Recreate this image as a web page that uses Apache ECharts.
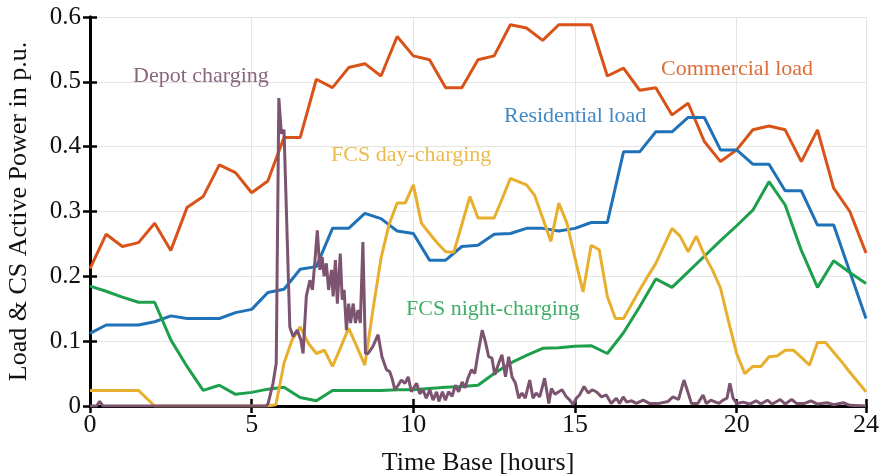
<!DOCTYPE html>
<html>
<head>
<meta charset="utf-8">
<script src="https://cdn.jsdelivr.net/npm/echarts@6/dist/echarts.min.js"></script>
<style>
html,body{margin:0;padding:0;background:#fff;}
#chart{width:880px;height:476px;}
</style>
</head>
<body>
<div id="chart"></div>
<script>
// ---- data ----
const halfHours = [0,0.5,1,1.5,2,2.5,3,3.5,4,4.5,5,5.5,6,6.5,7,7.5,8,8.5,9,9.5,10,10.5,11,11.5,12,12.5,13,13.5,14,14.5,15,15.5,16,16.5,17,17.5,18,18.5,19,19.5,20,20.5,21,21.5,22,22.5,23,23.5,24];
const commercialLoad = [0.212,0.265,0.246,0.252,0.282,0.240,0.306,0.323,0.372,0.360,0.329,0.347,0.414,0.414,0.504,0.491,0.522,0.528,0.509,0.570,0.540,0.534,0.491,0.491,0.534,0.540,0.588,0.583,0.564,0.588,0.588,0.588,0.509,0.521,0.487,0.491,0.449,0.467,0.408,0.377,0.395,0.426,0.432,0.426,0.377,0.426,0.336,0.300,0.236];
const residentialLoad = [0.112,0.125,0.125,0.125,0.130,0.139,0.135,0.135,0.135,0.144,0.149,0.175,0.180,0.211,0.215,0.274,0.274,0.297,0.289,0.270,0.266,0.225,0.225,0.246,0.248,0.265,0.266,0.274,0.274,0.270,0.274,0.283,0.283,0.392,0.392,0.423,0.423,0.445,0.445,0.395,0.395,0.373,0.373,0.332,0.332,0.279,0.279,0.207,0.135];
const fcsNight = [0.185,0.177,0.168,0.160,0.160,0.102,0.061,0.024,0.032,0.018,0.021,0.026,0.029,0.013,0.008,0.024,0.024,0.024,0.024,0.025,0.025,0.027,0.029,0.030,0.032,0.050,0.066,0.078,0.089,0.090,0.092,0.093,0.081,0.113,0.153,0.196,0.183,0.207,0.231,0.255,0.278,0.302,0.346,0.310,0.240,0.183,0.224,0.206,0.189];

const quarterHours = [0,0.25,0.5,0.75,1,1.25,1.5,1.75,2,2.25,2.5,2.75,3,3.25,3.5,3.75,4,4.25,4.5,4.75,5,5.25,5.5,5.75,6,6.25,6.5,6.75,7,7.25,7.5,7.75,8,8.25,8.5,8.75,9,9.25,9.5,9.75,10,10.25,10.5,10.75,11,11.25,11.5,11.75,12,12.25,12.5,12.75,13,13.25,13.5,13.75,14,14.25,14.5,14.75,15,15.25,15.5,15.75,16,16.25,16.5,16.75,17,17.25,17.5,17.75,18,18.25,18.5,18.75,19,19.25,19.5,19.75,20,20.25,20.5,20.75,21,21.25,21.5,21.75,22,22.25,22.5,22.75,23,23.25,23.5,23.75,24];
const fcsDay = [0.024,0.024,0.024,0.024,0.024,0.024,0.024,0.012,0,0,0,0,0,0,0,0,0,0,0,0,0,0,0,0.002,0.066,0.102,0.122,0.097,0.081,0.086,0.061,0.090,0.120,0.092,0.063,0.148,0.228,0.280,0.313,0.313,0.341,0.282,0.266,0.251,0.238,0.237,0.280,0.323,0.290,0.290,0.290,0.320,0.351,0.346,0.341,0.325,0.290,0.254,0.313,0.282,0.228,0.176,0.248,0.241,0.169,0.135,0.135,0.157,0.179,0.200,0.220,0.247,0.274,0.262,0.238,0.262,0.233,0.210,0.182,0.130,0.081,0.050,0.061,0.061,0.076,0.077,0.086,0.086,0.075,0.063,0.098,0.098,0.083,0.068,0.052,0.037,0.022];

const depotHours = [0,0.2,0.3,0.4,5.45,5.51,5.66,5.76,5.84,5.92,6.0,6.18,6.28,6.41,6.52,6.59,6.69,6.8,6.88,6.95,7.03,7.11,7.18,7.24,7.31,7.38,7.47,7.52,7.59,7.65,7.74,7.8,7.86,7.93,8.0,8.06,8.14,8.21,8.29,8.36,8.44,8.52,8.6,8.75,8.91,9.03,9.17,9.27,9.34,9.43,9.53,9.63,9.74,9.84,9.94,10.1,10.2,10.3,10.4,10.51,10.61,10.72,10.79,10.9,10.99,11.09,11.2,11.3,11.4,11.51,11.6,11.69,11.8,11.9,12.0,12.13,12.23,12.33,12.43,12.52,12.64,12.74,12.85,12.95,13.05,13.16,13.26,13.36,13.46,13.6,13.7,13.8,13.91,14.06,14.19,14.27,14.38,14.5,14.6,14.72,14.84,14.94,15.04,15.14,15.28,15.41,15.53,15.66,15.82,15.97,16.12,16.28,16.38,16.49,16.6,16.75,16.9,17.11,17.3,17.6,17.88,18.03,18.2,18.37,18.5,18.6,18.8,18.96,19.06,19.2,19.35,19.45,19.58,19.7,19.79,19.89,20.0,20.2,20.4,20.6,20.75,20.95,21.1,21.35,21.5,21.7,21.85,22.1,22.3,22.5,22.8,23.0,23.3,23.5,24];
const depotCharging = [0,0,0.007,0,0,0.004,0.035,0.066,0.475,0.420,0.426,0.122,0.107,0.117,0.102,0.081,0.169,0.194,0.179,0.220,0.271,0.210,0.230,0.200,0.220,0.179,0.210,0.169,0.225,0.158,0.235,0.164,0.179,0.117,0.158,0.128,0.158,0.128,0.148,0.128,0.253,0.081,0.081,0.092,0.110,0.076,0.056,0.053,0.043,0.025,0.032,0.040,0.035,0.045,0.022,0.035,0.019,0.025,0.012,0.025,0.009,0.022,0.007,0.022,0.009,0.022,0.015,0.032,0.022,0.037,0.028,0.043,0.056,0.050,0.081,0.117,0.099,0.076,0.074,0.048,0.066,0.079,0.045,0.076,0.045,0.035,0.012,0.020,0.012,0.040,0.012,0.020,0.014,0.043,0.004,0.027,0.018,0.022,0.025,0.015,0.009,0.002,0.012,0.017,0.030,0.020,0.025,0.022,0.014,0.017,0.004,0.012,0.004,0.014,0.006,0.008,0.004,0.009,0.004,0.004,0.007,0.014,0.010,0.040,0.020,0.004,0.004,0.017,0.004,0.009,0.006,0.004,0.009,0.012,0.035,0.012,0.004,0.006,0.003,0.008,0.003,0.009,0.003,0.010,0.003,0.010,0.004,0.004,0.008,0.003,0.005,0.002,0.005,0.001,0];

const yTicks = ['0','0.1','0.2','0.3','0.4','0.5','0.6'];
const xTickLabels = ['0','5','10','15','20','24'];

const colors = {
  commercial: '#D95319',
  residential: '#1F72B8',
  day: '#E8AF2E',
  night: '#1E9F4C',
  depot: '#7D5470'
};

function pairs(xs, ys){ return xs.map((x,i)=>[x, ys[i]]); }

const FONT = 'Liberation Serif';
const chart = echarts.init(document.getElementById('chart'), null, {renderer:'canvas'});

const frameLine = {show:true, lineStyle:{color:'#000', width:3}};
const tickIn = {show:true, inside:true, length:7, lineStyle:{color:'#000', width:2.5}};
const grid = {left:90, right:14, top:17, bottom:70, containLabel:false, outerBoundsMode:'none'};

function lineSeries(name, data, color, width){
  return {name, type:'line', data, showSymbol:false, symbol:'none', smooth:false,
    lineStyle:{color, width: width||3}, itemStyle:{color}, clip:true, z:3};
}

chart.setOption({
  animation:false,
  backgroundColor:'#fff',
  grid,
  xAxis:[{
    type:'value', min:0, max:24, interval:5, position:'bottom',
    axisLine:frameLine, axisTick:tickIn,
    axisLabel:{color:'#111', fontFamily:FONT, fontSize:26, margin:6,
      formatter:(v)=> xTickLabels.indexOf(String(v))>=0 ? String(v) : ''},
    splitLine:{show:true, lineStyle:{color:'#e5e5e5', width:1}},
    name:'Time Base [hours]', nameLocation:'middle', nameGap:44,
    nameTextStyle:{color:'#111', fontFamily:FONT, fontSize:26}
  },{
    type:'value', min:0, max:24, interval:5, position:'top',
    axisLine:frameLine, axisTick:tickIn, axisLabel:{show:false}, splitLine:{show:false}
  }],
  yAxis:[{
    type:'value', min:0, max:0.6, interval:0.1, position:'left',
    axisLine:frameLine, axisTick:tickIn,
    axisLabel:{color:'#111', fontFamily:FONT, fontSize:25, margin:9,
      formatter:(v)=> yTicks[Math.round(v*10)]},
    splitLine:{show:true, lineStyle:{color:'#e5e5e5', width:1}},
    name:'Load & CS Active Power in p.u.', nameLocation:'middle', nameGap:58, nameRotate:90,
    nameTextStyle:{color:'#111', fontFamily:FONT, fontSize:26}
  },{
    type:'value', min:0, max:0.6, interval:0.1, position:'right',
    axisLine:frameLine, axisTick:tickIn, axisLabel:{show:false}, splitLine:{show:false}
  }],
  series:[
    lineSeries('Commercial load', pairs(halfHours, commercialLoad), colors.commercial),
    lineSeries('Residential load', pairs(halfHours, residentialLoad), colors.residential),
    lineSeries('FCS night-charging', pairs(halfHours, fcsNight), colors.night),
    lineSeries('FCS day-charging', pairs(quarterHours, fcsDay), colors.day),
    lineSeries('Depot charging', pairs(depotHours, depotCharging), colors.depot)
  ],
  graphic:[
    {type:'text', left:133, top:65, z:10, style:{text:'Depot charging', fill:colors.depot, font:'22px "Liberation Serif"', opacity:0.9}},
    {type:'text', left:661, top:58, z:10, style:{text:'Commercial load', fill:colors.commercial, font:'22px "Liberation Serif"', opacity:0.85}},
    {type:'text', left:504, top:105, z:10, style:{text:'Residential load', fill:colors.residential, font:'22px "Liberation Serif"', opacity:0.85}},
    {type:'text', left:331, top:144, z:10, style:{text:'FCS day-charging', fill:colors.day, font:'22px "Liberation Serif"', opacity:0.85}},
    {type:'text', left:406, top:298, z:10, style:{text:'FCS night-charging', fill:colors.night, font:'22px "Liberation Serif"', opacity:0.85}}
  ]
});
</script>
</body>
</html>
